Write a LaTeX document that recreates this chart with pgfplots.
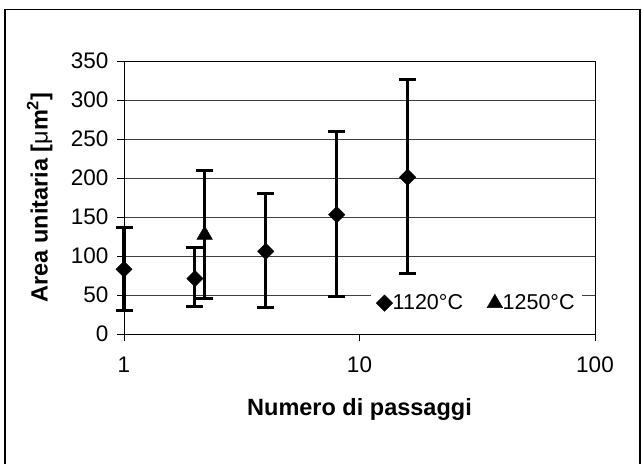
\documentclass[border=0pt]{standalone}
\usepackage{pgfplots}
\pgfplotsset{compat=1.18}
\usepackage{fontspec}
\setmainfont{Liberation Sans}

\begin{document}
\begin{tikzpicture}[x=1pt,y=1pt]
\path[use as bounding box] (0,0) rectangle (642,463);
\draw[line width=1.2pt] (5,-10) rectangle (640,453.7);
\begin{axis}[
  at={(124pt,129pt)}, anchor=south west,
  scale only axis, width=471pt, height=273pt,
  xmode=log, xmin=1, xmax=100,
  ymin=0, ymax=350, ytick={0,50,...,350},
  xtick={1,10,100}, xticklabels={1,10,100},
  xminorticks=false,
  tick pos=left,
  clip=false,
  tick align=outside, major tick length=7pt,
  tick style={black, line width=0.9pt},
  ymajorgrids, grid style={black!75, line width=0.8pt},
  axis line style={black, line width=0.9pt},
  /pgf/number format/assume math mode=true,
  tick label style={font=\fontsize{22.5}{23}\selectfont},
  every x tick label/.append style={yshift=-12pt},
  every y tick label/.append style={xshift=-5pt},
  xlabel={\textbf{Numero di passaggi}},
  ylabel={\textbf{Area unitaria [}μ\textbf{m\textsuperscript{2}]}},
  every axis label/.append style={font=\fontsize{23.5}{24}\selectfont},
  xlabel style={at={(axis description cs:0.5,-0.278)}, anchor=center},
  ylabel style={at={(axis description cs:-0.179,0.5)}, anchor=center},
  legend columns=2,
  legend style={at={(0.972,0.113)}, anchor=east, draw=none, fill=white,
    font=\fontsize{21.5}{22}\selectfont, inner sep=5pt,
    /tikz/every even column/.append style={column sep=22pt}},
  legend cell align=left,
]
\addplot[black, only marks, mark=square*, mark size=5.8pt, mark options={rotate=45, fill=black},
  error bars/.cd, y dir=both, y explicit,
  error bar style={line width=3.2pt},
  error mark options={rotate=90, mark size=8.5pt, line width=3pt}]
  table[x=x, y=y, y error plus=ep, y error minus=em] {
x y ep em
1 83 54 53
2 71 39.5 36
4 106 74 72
8 153 106 105
16 201 125 123
};
\addlegendentry{\hspace{-2pt}1120°C}
\addplot[black, only marks, mark=triangle*, mark size=9pt, mark options={fill=black},
  error bars/.cd, y dir=both, y explicit,
  error bar style={line width=3.2pt},
  error mark options={rotate=90, mark size=8.5pt, line width=3pt}]
  table[x=x, y=y, y error plus=ep, y error minus=em] {
x y ep em
2.2 127 82 82
};
\addlegendentry{\hspace{-2pt}1250°C}
\end{axis}
\end{tikzpicture}
\end{document}
